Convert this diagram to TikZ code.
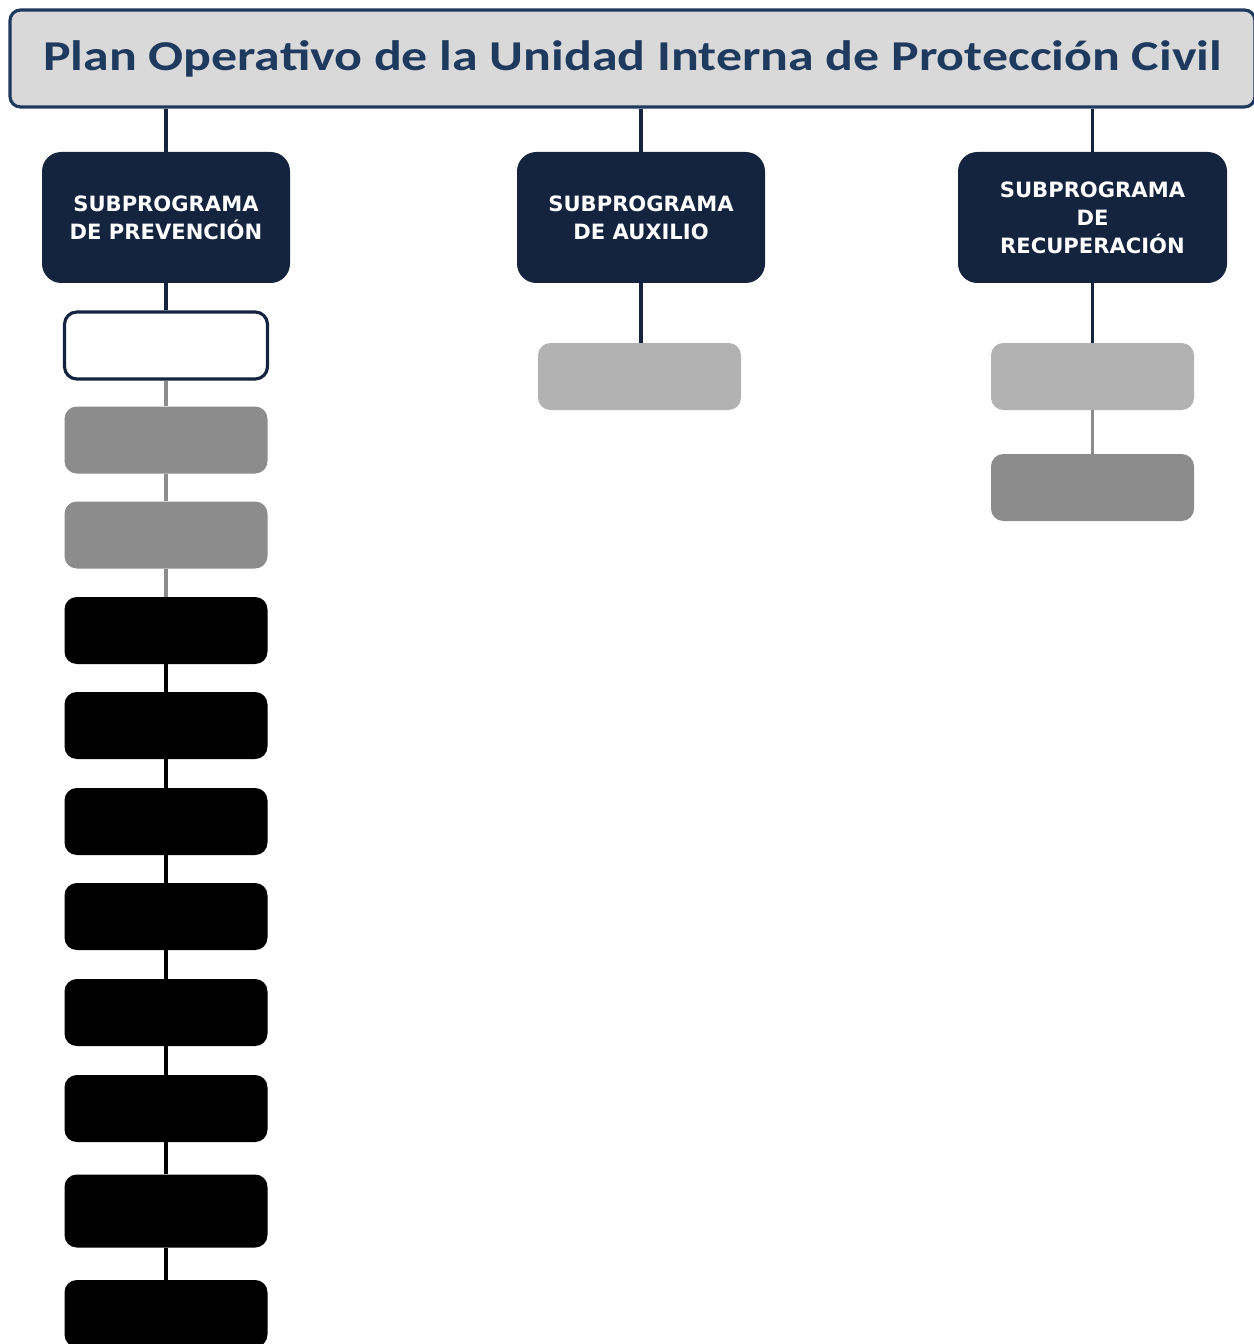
\documentclass[tikz,border=0pt]{standalone}
\usepackage{fontspec}
\setmainfont{Carlito}
\newfontfamily\ttlfont{Carlito}[FakeStretch=1.22]
\newfontfamily\boxfont{DejaVu Sans}
\usetikzlibrary{positioning, calc}
\definecolor{navy}{HTML}{14243F}
\definecolor{ttlblue}{HTML}{1F3A5F}
\definecolor{ttlgray}{HTML}{D9D9D9}
\definecolor{midgray}{HTML}{8C8C8C}
\tikzset{
  ttl/.style ={rectangle, rounded corners=6pt, draw=ttlblue, line width=1.8pt, fill=ttlgray, minimum width=24.9cm, minimum height=1.94cm, font=\ttlfont\fontsize{24.2}{28}\selectfont\bfseries, text=ttlblue},
  sub/.style ={rectangle, rounded corners=11pt, fill=navy, minimum width=4.96cm, minimum height=2.62cm, align=center, text=white, font=\boxfont\bfseries\fontsize{12}{16}\selectfont},
  act/.style ={rectangle, rounded corners=7pt, minimum width=4.06cm, minimum height=1.34cm},
  actw/.style={act, fill=white, draw=navy, line width=1.8pt},
  actg/.style={act, fill=midgray},
  actn/.style={act, fill=black!30},
  actk/.style={act, fill=black},
  ln/.style  ={draw=navy, line width=2.2pt},
  lng/.style ={draw=midgray, line width=1.8pt},
  lnk/.style ={draw=black, line width=2.2pt},
}

\begin{document}
\begin{tikzpicture}
\useasboundingbox (0,0) rectangle (25.06,-26.88);

% titulo
\node[ttl] (plan) at (12.65,-1.17) {Plan Operativo de la Unidad Interna de Protección Civil};

% subprogramas
\node[sub] (prev) at (3.32,-4.35) {SUBPROGRAMA\\DE PREVENCIÓN};
\node[sub] (aux) at (12.82,-4.35) {SUBPROGRAMA\\DE AUXILIO};
\node[sub, minimum width=5.38cm] (recu) at (21.85,-4.35) {SUBPROGRAMA\\DE\\RECUPERACIÓN};

\draw[ln] (prev.north) -- (prev.north |- plan.south);
\draw[ln] (aux.north) -- (aux.north |- plan.south);
\draw[ln] (recu.north) -- (recu.north |- plan.south);

% prevencion
\node[actw] (p1) at (3.32,-6.91) {};
\node[actg] (p2) at (3.32,-8.80) {};
\node[actg] (p3) at (3.32,-10.70) {};
\node[actk] (p4) at (3.32,-12.61) {};
\node[actk] (p5) at (3.32,-14.51) {};
\node[actk] (p6) at (3.32,-16.43) {};
\node[actk] (p7) at (3.32,-18.33) {};
\node[actk] (p8) at (3.32,-20.25) {};
\node[actk] (p9) at (3.32,-22.17) {};
\node[actk, minimum height=1.46cm] (p10) at (3.32,-24.22) {};
\node[actk] (p11) at (3.32,-26.27) {};

\draw[ln] (prev) -- (p1);
\draw[lng] (p1) -- (p2);
\draw[lng] (p2) -- (p3);
\draw[lng] (p3) -- (p4);
\draw[lnk] (p4) -- (p5);
\draw[lnk] (p5) -- (p6);
\draw[lnk] (p6) -- (p7);
\draw[lnk] (p7) -- (p8);
\draw[lnk] (p8) -- (p9);
\draw[lnk] (p9) -- (p10);
\draw[lnk] (p10) -- (p11);

% auxilio
\node[actn] (a1) at (12.79,-7.53) {};
\draw[ln] (aux.south) -- (aux.south |- a1.north);

% recuperacion
\node[actn] (r1) at (21.85,-7.53) {};
\node[actg] (r2) at (21.85,-9.75) {};
\draw[ln] (recu) -- (r1);
\draw[lng] (r1) -- (r2);

\end{tikzpicture}
\end{document}
